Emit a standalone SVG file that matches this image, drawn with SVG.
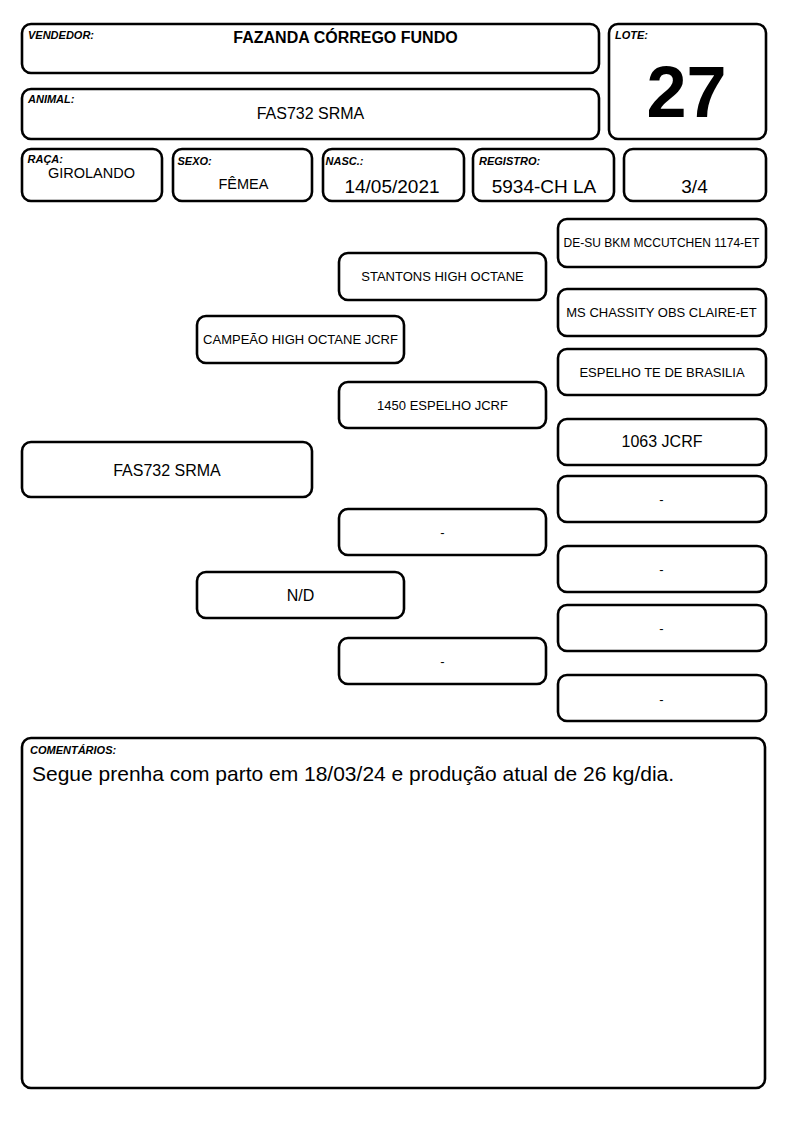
<svg xmlns="http://www.w3.org/2000/svg" width="794" height="1123" viewBox="0 0 794 1123">
<style>
.b{fill:#fff;stroke:#000;stroke-width:2.6}
.lbl{font-family:"Liberation Sans",Arial,sans-serif;font-size:11px;font-weight:bold;font-style:italic;fill:#000}
.t{font-family:"Liberation Sans",Arial,sans-serif;fill:#000;text-anchor:middle}
.s13{font-size:13px}
.s12{font-size:12px}
.s16{font-size:16px}
.s14{font-size:14.5px}
.s19{font-size:19px}
</style>
<rect width="794" height="1123" fill="#fff"/>
<g id="vendedor">
<rect class="b" x="22" y="24" width="577" height="49" rx="9"/>
<text class="lbl" x="28" y="39">VENDEDOR:</text>
<text class="t" x="345.5" y="42.5" font-size="16" font-weight="bold">FAZANDA CÓRREGO FUNDO</text>
</g>
<g id="animal">
<rect class="b" x="22" y="89" width="577" height="50" rx="9"/>
<text class="lbl" x="28" y="102.5">ANIMAL:</text>
<text class="t s16" x="310.5" y="119">FAS732 SRMA</text>
</g>
<g id="lote">
<rect class="b" x="609" y="24" width="157" height="115" rx="9"/>
<text class="lbl" x="615" y="39">LOTE:</text>
<text class="t" x="686.5" y="117" font-size="72" font-weight="bold">27</text>
</g>
<g id="raca">
<rect class="b" x="22" y="149" width="140" height="52" rx="9"/>
<text class="lbl" x="27.5" y="162.5">RAÇA:</text>
<text class="t s14" x="91.5" y="178.3">GIROLANDO</text>
</g>
<g id="sexo">
<rect class="b" x="173" y="149" width="139" height="52" rx="9"/>
<text class="lbl" x="177.5" y="165">SEXO:</text>
<text class="t s14" x="243.5" y="189.3">FÊMEA</text>
</g>
<g id="nasc">
<rect class="b" x="323" y="149" width="141" height="52" rx="9"/>
<text class="lbl" x="325.5" y="165">NASC.:</text>
<text class="t s19" x="392" y="193">14/05/2021</text>
</g>
<g id="registro">
<rect class="b" x="473" y="149" width="141" height="52" rx="9"/>
<text class="lbl" x="479" y="165">REGISTRO:</text>
<text class="t s19" x="544" y="192.5">5934-CH LA</text>
</g>
<g id="grau">
<rect class="b" x="624" y="149" width="142" height="52" rx="9"/>
<text class="t s19" x="694.5" y="192.5">3/4</text>
</g>
<g id="connectors"></g>
<g id="ped-animal">
<rect class="b" x="22" y="442" width="290" height="55" rx="9"/>
<text class="t s16" x="167" y="476">FAS732 SRMA</text>
</g>
<g id="ped-pai">
<rect class="b" x="197" y="316" width="207" height="47" rx="9"/>
<text class="t s13" x="300.5" y="344">CAMPEÃO HIGH OCTANE JCRF</text>
</g>
<g id="ped-mae">
<rect class="b" x="197" y="572" width="207" height="46" rx="9"/>
<text class="t s16" x="300.5" y="600.5">N/D</text>
</g>
<g id="ped-avo-pp">
<rect class="b" x="339" y="253" width="207" height="47" rx="9"/>
<text class="t s13" x="442.5" y="281">STANTONS HIGH OCTANE</text>
</g>
<g id="ped-avo-pm">
<rect class="b" x="339" y="382" width="207" height="46" rx="9"/>
<text class="t s13" x="442.5" y="409.5">1450 ESPELHO JCRF</text>
</g>
<g id="ped-avo-mp">
<rect class="b" x="339" y="509" width="207" height="46" rx="9"/>
<text class="t s13" x="442.5" y="536.5">-</text>
</g>
<g id="ped-avo-mm">
<rect class="b" x="339" y="638" width="207" height="46" rx="9"/>
<text class="t s13" x="442.5" y="665.5">-</text>
</g>
<g id="ped-bis-1">
<rect class="b" x="558" y="219" width="208" height="48" rx="9"/>
<text class="t s12" x="661.5" y="247">DE-SU BKM MCCUTCHEN 1174-ET</text>
</g>
<g id="ped-bis-2">
<rect class="b" x="558" y="289" width="208" height="47" rx="9"/>
<text class="t s13" x="661.5" y="317">MS CHASSITY OBS CLAIRE-ET</text>
</g>
<g id="ped-bis-3">
<rect class="b" x="558" y="349" width="208" height="46" rx="9"/>
<text class="t s13" x="662" y="376.5">ESPELHO TE DE BRASILIA</text>
</g>
<g id="ped-bis-4">
<rect class="b" x="558" y="419" width="208" height="46" rx="9"/>
<text class="t s16" x="662" y="447">1063 JCRF</text>
</g>
<g id="ped-bis-5">
<rect class="b" x="558" y="476" width="208" height="46" rx="9"/>
<text class="t s13" x="661.5" y="503.5">-</text>
</g>
<g id="ped-bis-6">
<rect class="b" x="558" y="546" width="208" height="46" rx="9"/>
<text class="t s13" x="661.5" y="573.5">-</text>
</g>
<g id="ped-bis-7">
<rect class="b" x="558" y="605" width="208" height="46" rx="9"/>
<text class="t s13" x="661.5" y="632.5">-</text>
</g>
<g id="ped-bis-8">
<rect class="b" x="558" y="675" width="208" height="46" rx="9"/>
<text class="t s13" x="661.5" y="703.5">-</text>
</g>
<g id="comentarios">
<rect class="b" x="22" y="738" width="743" height="350" rx="9"/>
<text class="lbl" x="30" y="753.5">COMENTÁRIOS:</text>
<text x="32" y="781" font-family="'Liberation Sans', Arial, sans-serif" font-size="21" fill="#000">Segue prenha com parto em 18/03/24 e produção atual de 26 kg/dia.</text>
</g>
</svg>
